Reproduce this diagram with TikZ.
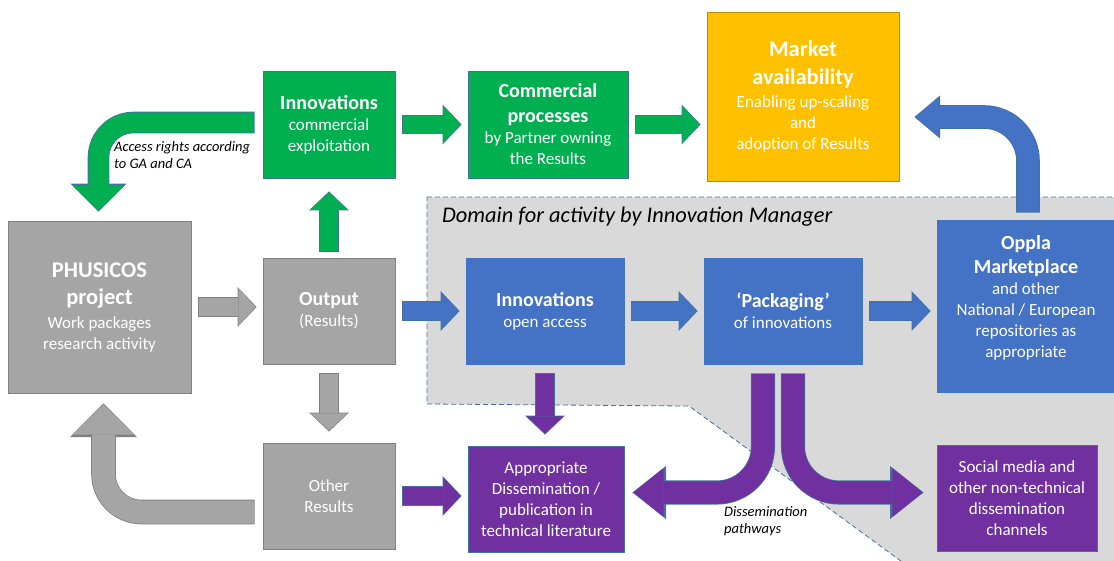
\documentclass[tikz,border=0pt]{standalone}
\usepackage{fontspec}
\setmainfont{Carlito}
\usetikzlibrary{arrows.meta,calc,positioning}

\definecolor{grn}{HTML}{00B050}
\definecolor{blu}{HTML}{4472C4}
\definecolor{pur}{HTML}{7030A0}
\definecolor{gry}{HTML}{A5A5A5}
\definecolor{ylw}{HTML}{FFC000}
\definecolor{edge}{HTML}{41719C}
\definecolor{gedge}{HTML}{808080}
\definecolor{yedge}{HTML}{BC8C00}
\definecolor{dom}{HTML}{D9D9D9}

\newcommand{\hd}[1]{{\fontsize{20}{24}\selectfont\bfseries #1}}
\newcommand{\bighd}[1]{{\fontsize{22.5}{27}\selectfont\bfseries #1}}

\begin{document}
\begin{tikzpicture}[x=1pt,y=-1pt,
    box/.style 2 args={draw=#2,fill=#1,text=white,align=center,line width=0.8pt,
        inner sep=2pt,font=\fontsize{17}{21}\selectfont},
    note/.style={inner sep=0pt,align=left,font=\fontsize{14.5}{17}\selectfont\itshape},
    blk/.style n args={5}{line width=#3pt,draw=#1,shorten <=0.8pt,shorten >=1.2pt,
        -{Triangle[length=#5pt,width=#4pt,line width'=0pt]},
        preaction={draw=#2,line width=#3pt+1.6pt,shorten <=0pt,shorten >=0pt,
            -{Triangle[length=#5pt,width=#4pt,scale length=1.12,scale width=1.08,line width'=0pt]}}},
    sarr/.style 2 args={blk={#1}{#2}{18}{37}{17}}]
    \useasboundingbox (0,0) rectangle (1114,560);
    \clip (0,0) rectangle (1114,560);

    % domain of the innovation manager
    \draw[fill=dom,draw=edge,line width=0.8pt,dash pattern=on 5pt off 3pt]
        (427,197) -- (1125,197) -- (1125,575) -- (920,575) -- (689,406) -- (427,404) -- cycle;
    \node[anchor=west,inner sep=0pt,font=\fontsize{22.4}{26}\selectfont\itshape] (domlbl) at (442,217)
        {Domain for activity by Innovation Manager};

    % boxes
    \node[box={gry}{gedge},minimum width=183pt,minimum height=172pt] (phus) at (99.5,307)
        {\bighd{PHUSICOS}\\[6pt]\bighd{project}\\[3pt]Work packages\\research activity};
    \node[box={grn}{edge},minimum width=132pt,minimum height=107pt] (innc) at (329,124.5)
        {\hd{Innovations}\\commercial\\exploitation};
    \node[box={gry}{gedge},minimum width=132pt,minimum height=106pt] (outp) at (329,311)
        {\hd{Output}\\(Results)};
    \node[box={gry}{gedge},minimum width=132pt,minimum height=106pt] (other) at (329,496)
        {Other\\Results};
    \node[box={grn}{edge},minimum width=160pt,minimum height=107pt] (comm) at (548,124.5)
        {\hd{Commercial}\\[4pt]\hd{processes}\\by Partner owning\\the Results};
    \node[box={ylw}{yedge},minimum width=192pt,minimum height=169pt] (market) at (803,96.5)
        {\bighd{Market}\\[7pt]\bighd{availability}\\[2pt]Enabling up-scaling\\and\\adoption of Results};
    \node[box={blu}{blu},minimum width=158pt,minimum height=106pt] (inno) at (545,311)
        {\hd{Innovations}\\open access};
    \node[box={blu}{blu},minimum width=158pt,minimum height=106pt] (pack) at (783,311)
        {\hd{‘Packaging’}\\of innovations};
    \node[box={blu}{blu},minimum width=182pt,minimum height=172pt] (oppla) at (1028,306) {};
    \node[box={blu}{blu},draw=none,fill=none] (oppla-txt) at ([xshift=-2pt,yshift=8.5pt]oppla.center)
        {\hd{Oppla}\\[3pt]\hd{Marketplace}\\and other\\National / European\\repositories as\\appropriate};
    \node[box={pur}{edge},minimum width=156pt,minimum height=106pt] (appr) at (546,499)
        {Appropriate\\Dissemination /\\publication in\\technical literature};
    \node[box={pur}{edge},minimum width=160pt,minimum height=106pt] (social) at (1017,498)
        {Social media and\\other non-technical\\dissemination\\channels};

    % straight arrows
    \foreach \f/\t/\c/\e in {phus/outp/gry/gedge, innc/comm/grn/edge, comm/market/grn/edge,
        outp/inno/blu/edge, inno/pack/blu/edge, pack/oppla/blu/edge, other/appr/pur/edge}{
        \draw[sarr={\c}{\e}] ($(\f.east)+(7,0)$) -- ($(\f.east -| \t.west)+(-6,0)$);
    }
    \foreach \f/\t/\c/\e in {outp/other/gry/gedge, inno/appr/pur/edge}{
        \draw[sarr={\c}{\e}] ($(\f.south)+(0,9)$) -- ($(\f.south |- \t.north)+(0,-11)$);
    }
    \draw[sarr={grn}{edge}] ($(outp.north)+(0,-6)$) -- ($(innc.south)+(0,13)$);

    % bent arrows
    \draw[blk={grn}{edge}{20}{52}{25},rounded corners=35pt]
        ($(innc.west)+(-8,-2)$) -| ($(phus.north)+(-1,-9)$);
    \draw[blk={gry}{gedge}{23}{62}{30},rounded corners=38pt]
        ($(other.west)+(-8,16)$) -| ($(phus.south)+(4,10)$);
    \draw[blk={blu}{edge}{22}{40}{23},rounded corners=44pt]
        ($(oppla.north)+(0,-7)$) |- ($(market.east)+(15,20.5)$);
    \draw[blk={pur}{edge}{22.5}{49}{30},rounded corners=46pt]
        ($(pack.south)+(-20,9)$) |- ($(appr.east)+(8,-6.5)$);
    \draw[blk={pur}{edge}{22.5}{49}{30},rounded corners=46pt]
        ($(pack.south)+(10,9)$) |- ($(social.west)+(-13,-5.5)$);

    % labels
    \node[note,anchor=west] (access) at (114,155.5) {Access rights according\\to GA and CA};
    \node[note,anchor=west] (paths) at (724,521.5) {Dissemination\\pathways};
\end{tikzpicture}
\end{document}
